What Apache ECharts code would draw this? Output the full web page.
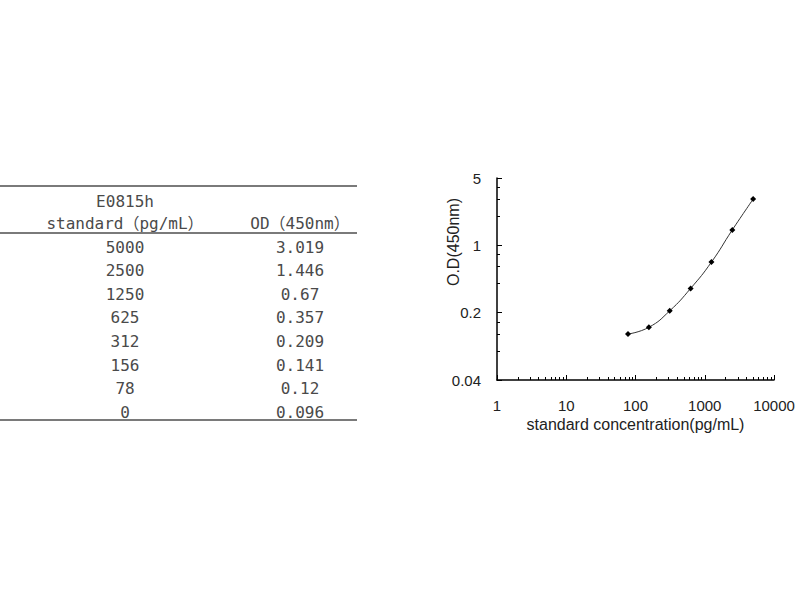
<!DOCTYPE html>
<html>
<head>
<meta charset="utf-8">
<script src="https://cdn.jsdelivr.net/npm/echarts@6/dist/echarts.min.js"></script>
<style>html,body{margin:0;padding:0;background:#fff}#c{width:800px;height:600px}</style>
</head>
<body>
<div id="c"></div>
<script>
var productCode = 'E0815h';
var concentrations = [5000, 2500, 1250, 625, 312, 156, 78, 0];
var odValues = ['3.019', '1.446', '0.67', '0.357', '0.209', '0.141', '0.12', '0.096'];
var xTickLabels = ['1', '10', '100', '1000', '10000'];
var yTickLabels = ['0.04', '0.2', '1', '5'];

var chart = echarts.init(document.getElementById('c'), null, {renderer: 'svg'});

// curve points (log axis cannot show 0)
var curve = [];
for (var i = 0; i < concentrations.length; i++) {
  if (concentrations[i] > 0) curve.push([concentrations[i], parseFloat(odValues[i])]);
}

// table graphic built from arrays
var tableFont = '"DejaVu Sans Mono", "Noto Sans CJK SC", monospace';
var g = [];
var col1 = 125, col2 = 300;
function line(y) {
  return {type: 'line', shape: {x1: 0, y1: y, x2: 357, y2: y}, style: {stroke: '#7a7a7a', lineWidth: 2}};
}
function txt(x, y, s) {
  return {type: 'text', x: x, y: y, style: {text: s, fill: '#4a4a4a', font: '16px ' + tableFont, textAlign: 'center', textVerticalAlign: 'middle'}};
}
g.push(line(186));
g.push(txt(col1, 201, productCode));
g.push(txt(col1, 223, 'standard\uff08pg/mL\uff09'));
g.push(txt(col2, 223, 'OD\uff08450nm\uff09'));
g.push(line(233));
for (var r = 0; r < concentrations.length; r++) {
  var y = 247 + r * 23.6;
  g.push(txt(col1, y, String(concentrations[r])));
  g.push(txt(col2, y, odValues[r]));
}
g.push(line(420));

var axisFont = '"Liberation Sans", Arial, sans-serif';
chart.setOption({
  animation: false,
  backgroundColor: '#fff',
  graphic: g,
  grid: {left: 497, top: 178, right: 26, bottom: 220},
  xAxis: {
    type: 'log', logBase: 10, min: 1, max: 10000, interval: 1,
    name: 'standard concentration(pg/mL)', nameLocation: 'middle', nameGap: 36,
    nameMoveOverlap: false,
    nameTextStyle: {fontFamily: axisFont, fontSize: 16, color: '#222'},
    axisLine: {lineStyle: {color: '#000', width: 1.5}},
    axisTick: {inside: true, length: 5, lineStyle: {color: '#000'}},
    minorTick: {show: true, splitNumber: 9, length: 3, lineStyle: {color: '#000'}},
    splitLine: {show: false},
    axisLabel: {fontFamily: axisFont, fontSize: 15, color: '#222', margin: 18,
      formatter: function (v) { var s = String(v); return xTickLabels.indexOf(s) >= 0 ? s : ''; }}
  },
  yAxis: {
    type: 'log', logBase: 5, min: 0.04, max: 5, interval: 1,
    name: 'O.D(450nm)', nameLocation: 'middle', nameGap: 36,
    nameMoveOverlap: false,
    nameTextStyle: {fontFamily: axisFont, fontSize: 16, color: '#222', padding: [0, 0, 0, 74]},
    axisLine: {lineStyle: {color: '#000', width: 1.5}},
    axisTick: {inside: true, length: 5, lineStyle: {color: '#000'}},
    minorTick: {show: true, splitNumber: 4, length: 3, lineStyle: {color: '#000'}},
    splitLine: {show: false},
    axisLabel: {fontFamily: axisFont, fontSize: 15, color: '#222', margin: 16,
      formatter: function (v) { var s = String(v); return yTickLabels.indexOf(s) >= 0 ? s : ''; }}
  },
  series: [{
    type: 'line', data: curve, smooth: true,
    symbol: 'diamond', symbolSize: 6,
    itemStyle: {color: '#000'},
    lineStyle: {color: '#333', width: 1}
  }]
});
</script>
</body>
</html>
